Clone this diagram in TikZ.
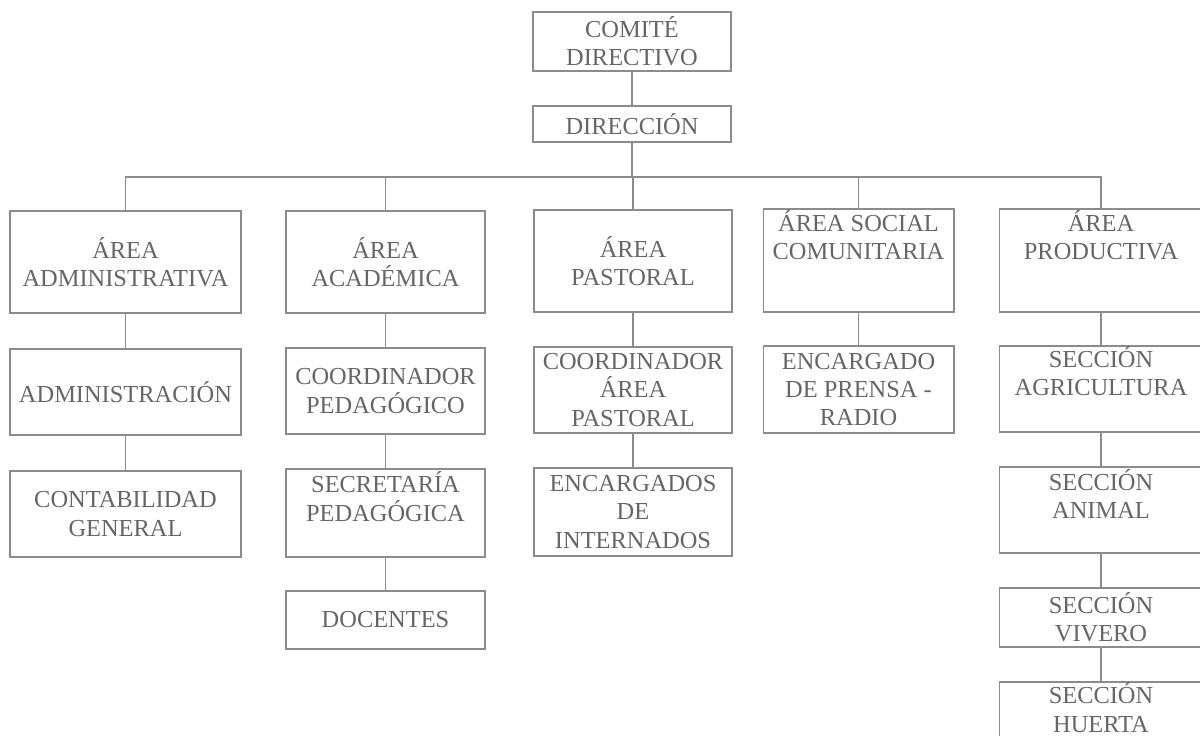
\documentclass[tikz,border=0pt]{standalone}
\usepackage{fontspec}
\setmainfont{Liberation Serif}
\definecolor{boxline}{gray}{0.55}
\definecolor{boxtext}{gray}{0.4}

\begin{document}
\begin{tikzpicture}[x=0.02cm, y=-0.02cm, line width=0.6pt]
    \useasboundingbox (0,0) rectangle (1200,736);

    \begin{scope}[every node/.style={draw=boxline, text=boxtext, align=center, inner xsep=2pt, inner ysep=0pt, font=\fontsize{13.9}{16}\selectfont}]
        \node[minimum width=3.96cm, minimum height=1.18cm] (T_1) at (632, 41.5) {COMITÉ\\DIRECTIVO};
        \node[minimum width=3.96cm, minimum height=0.72cm] (T_2) at (632, 124) {DIRECCIÓN};

        \node[minimum width=4.62cm, minimum height=2.04cm] (A_1) at (125.5, 262) {ÁREA\\ADMINISTRATIVA};
        \node[minimum width=3.98cm, minimum height=2.04cm] (A_2) at (385.5, 262) {ÁREA\\ACADÉMICA};
        \node[minimum width=3.96cm, minimum height=2.04cm] (A_3) at (633, 261) {ÁREA\\PASTORAL};
        \node[minimum width=3.82cm, text height=1.02cm, text depth=1.04cm] (A_4) at (858.5, 260.5) {ÁREA SOCIAL\\COMUNITARIA};
        \node[minimum width=4.08cm, text height=1.02cm, text depth=1.04cm] (A_5) at (1101, 260.5) {ÁREA\\PRODUCTIVA};

        \node[minimum width=4.62cm, minimum height=1.72cm] (B_1) at (125.5, 392) {ADMINISTRACIÓN};
        \node[minimum width=3.98cm, minimum height=1.72cm] (B_2) at (385.5, 391) {COORDINADOR\\PEDAGÓGICO};
        \node[minimum width=3.96cm, minimum height=1.72cm] (B_3) at (633, 390) {COORDINADOR\\ÁREA\\PASTORAL};
        \node[minimum width=3.82cm, minimum height=1.74cm] (B_4) at (858.5, 389.5) {ENCARGADO\\DE PRENSA -\\RADIO};
        \node[minimum width=4.08cm, text height=1.0cm, text depth=0.72cm] (B_5) at (1101, 389) {SECCIÓN\\AGRICULTURA};

        \node[minimum width=4.62cm, minimum height=1.72cm] (C_1) at (125.5, 514) {CONTABILIDAD\\GENERAL};
        \node[minimum width=3.98cm, text height=1.04cm, text depth=0.72cm] (C_2) at (385.5, 513) {SECRETARÍA\\PEDAGÓGICA};
        \node[minimum width=3.96cm, minimum height=1.76cm] (C_3) at (633, 512) {ENCARGADOS\\DE\\INTERNADOS};
        \node[minimum width=4.08cm, text height=1.04cm, text depth=0.68cm] (C_5) at (1101, 510) {SECCIÓN\\ANIMAL};

        \node[minimum width=3.98cm, minimum height=1.16cm] (D_2) at (385.5, 620) {DOCENTES};
        \node[minimum width=4.08cm, minimum height=1.18cm] (D_5) at (1101, 617.5) {SECCIÓN\\VIVERO};

        \node[minimum width=4.08cm, text height=1.0cm, text depth=0.32cm] (E_5) at (1101, 715) {SECCIÓN\\HUERTA};
    \end{scope}

    \coordinate (bus) at (632, 177);

    \begin{scope}[every edge/.style={draw=boxline}]
        \path (T_1) edge (T_2);
        \path (T_2) edge (T_2 |- bus);
        \draw[boxline] (A_1.north) -- (A_1.north |- bus) -- (A_5.north |- bus) -- (A_5.north);
        \path (A_2.north) edge (A_2.north |- bus);
        \path (A_3.north) edge (A_3.north |- bus);
        \path (A_4.north) edge (A_4.north |- bus);

        \path (A_1) edge (B_1);
        \path (B_1) edge (C_1);
        \path (A_2) edge (B_2);
        \path (B_2) edge (C_2);
        \path (C_2) edge (D_2);
        \path (A_3) edge (B_3);
        \path (B_3) edge (C_3);
        \path (A_4) edge (B_4);
        \path (A_5) edge (B_5);
        \path (B_5) edge (C_5);
        \path (C_5) edge (D_5);
        \path (D_5) edge (E_5);
    \end{scope}
\end{tikzpicture}
\end{document}
